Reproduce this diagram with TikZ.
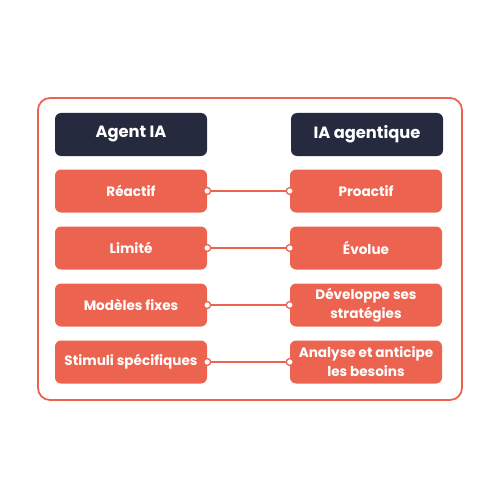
\documentclass[tikz,border=0pt]{standalone}
\usepackage{fontspec}
\setmainfont{Poppins}
\definecolor{navy}{HTML}{252A3F}
\definecolor{coral}{HTML}{EC6450}
\begin{document}
\begin{tikzpicture}[x=1pt,y=-1pt,
  frame/.style={draw=coral,line width=1.8pt,rounded corners=12pt},
  hdr/.style={fill=navy,rounded corners=6pt,minimum width=152pt,minimum height=43pt,text=white,font=\fontsize{16.3}{19}\selectfont\bfseries,inner sep=0pt},
  item/.style={fill=coral,rounded corners=6pt,minimum width=152pt,minimum height=43pt,text=white,font=\fontsize{13.6}{19}\selectfont\bfseries,align=center,inner sep=0pt},
  link/.style={draw=coral,line width=2pt},
  dot/.style={circle,draw=coral,fill=white,line width=1.3pt,minimum size=7pt,inner sep=0pt}]
\useasboundingbox (0,0) rectangle (500,500);
\draw[frame] (38,98) rectangle (462,400);
\node[hdr] (h1) at (131,134.5) {Agent IA};
\node[hdr] (h2) at (367,134.5) {IA agentique};
\node[item] (l1) at (131,191) {Réactif};
\node[item] (r1) at (366,191) {Proactif};
\node[item] (l2) at (131,248) {Limité};
\node[item] (r2) at (366,248) {Évolue};
\node[item] (l3) at (131,305) {Modèles fixes};
\node[item] (r3) at (366,305) {Développe ses\\stratégies};
\node[item] (l4) at (131,362) {Stimuli spécifiques};
\node[item] (r4) at (366,362) {Analyse et anticipe\\les besoins};
\foreach \i in {1,2,3,4}{
  \draw[link] (l\i.east) -- (r\i.west);
  \node[dot] at (l\i.east) {};
  \node[dot] at (r\i.west) {};
}
\end{tikzpicture}
\end{document}
